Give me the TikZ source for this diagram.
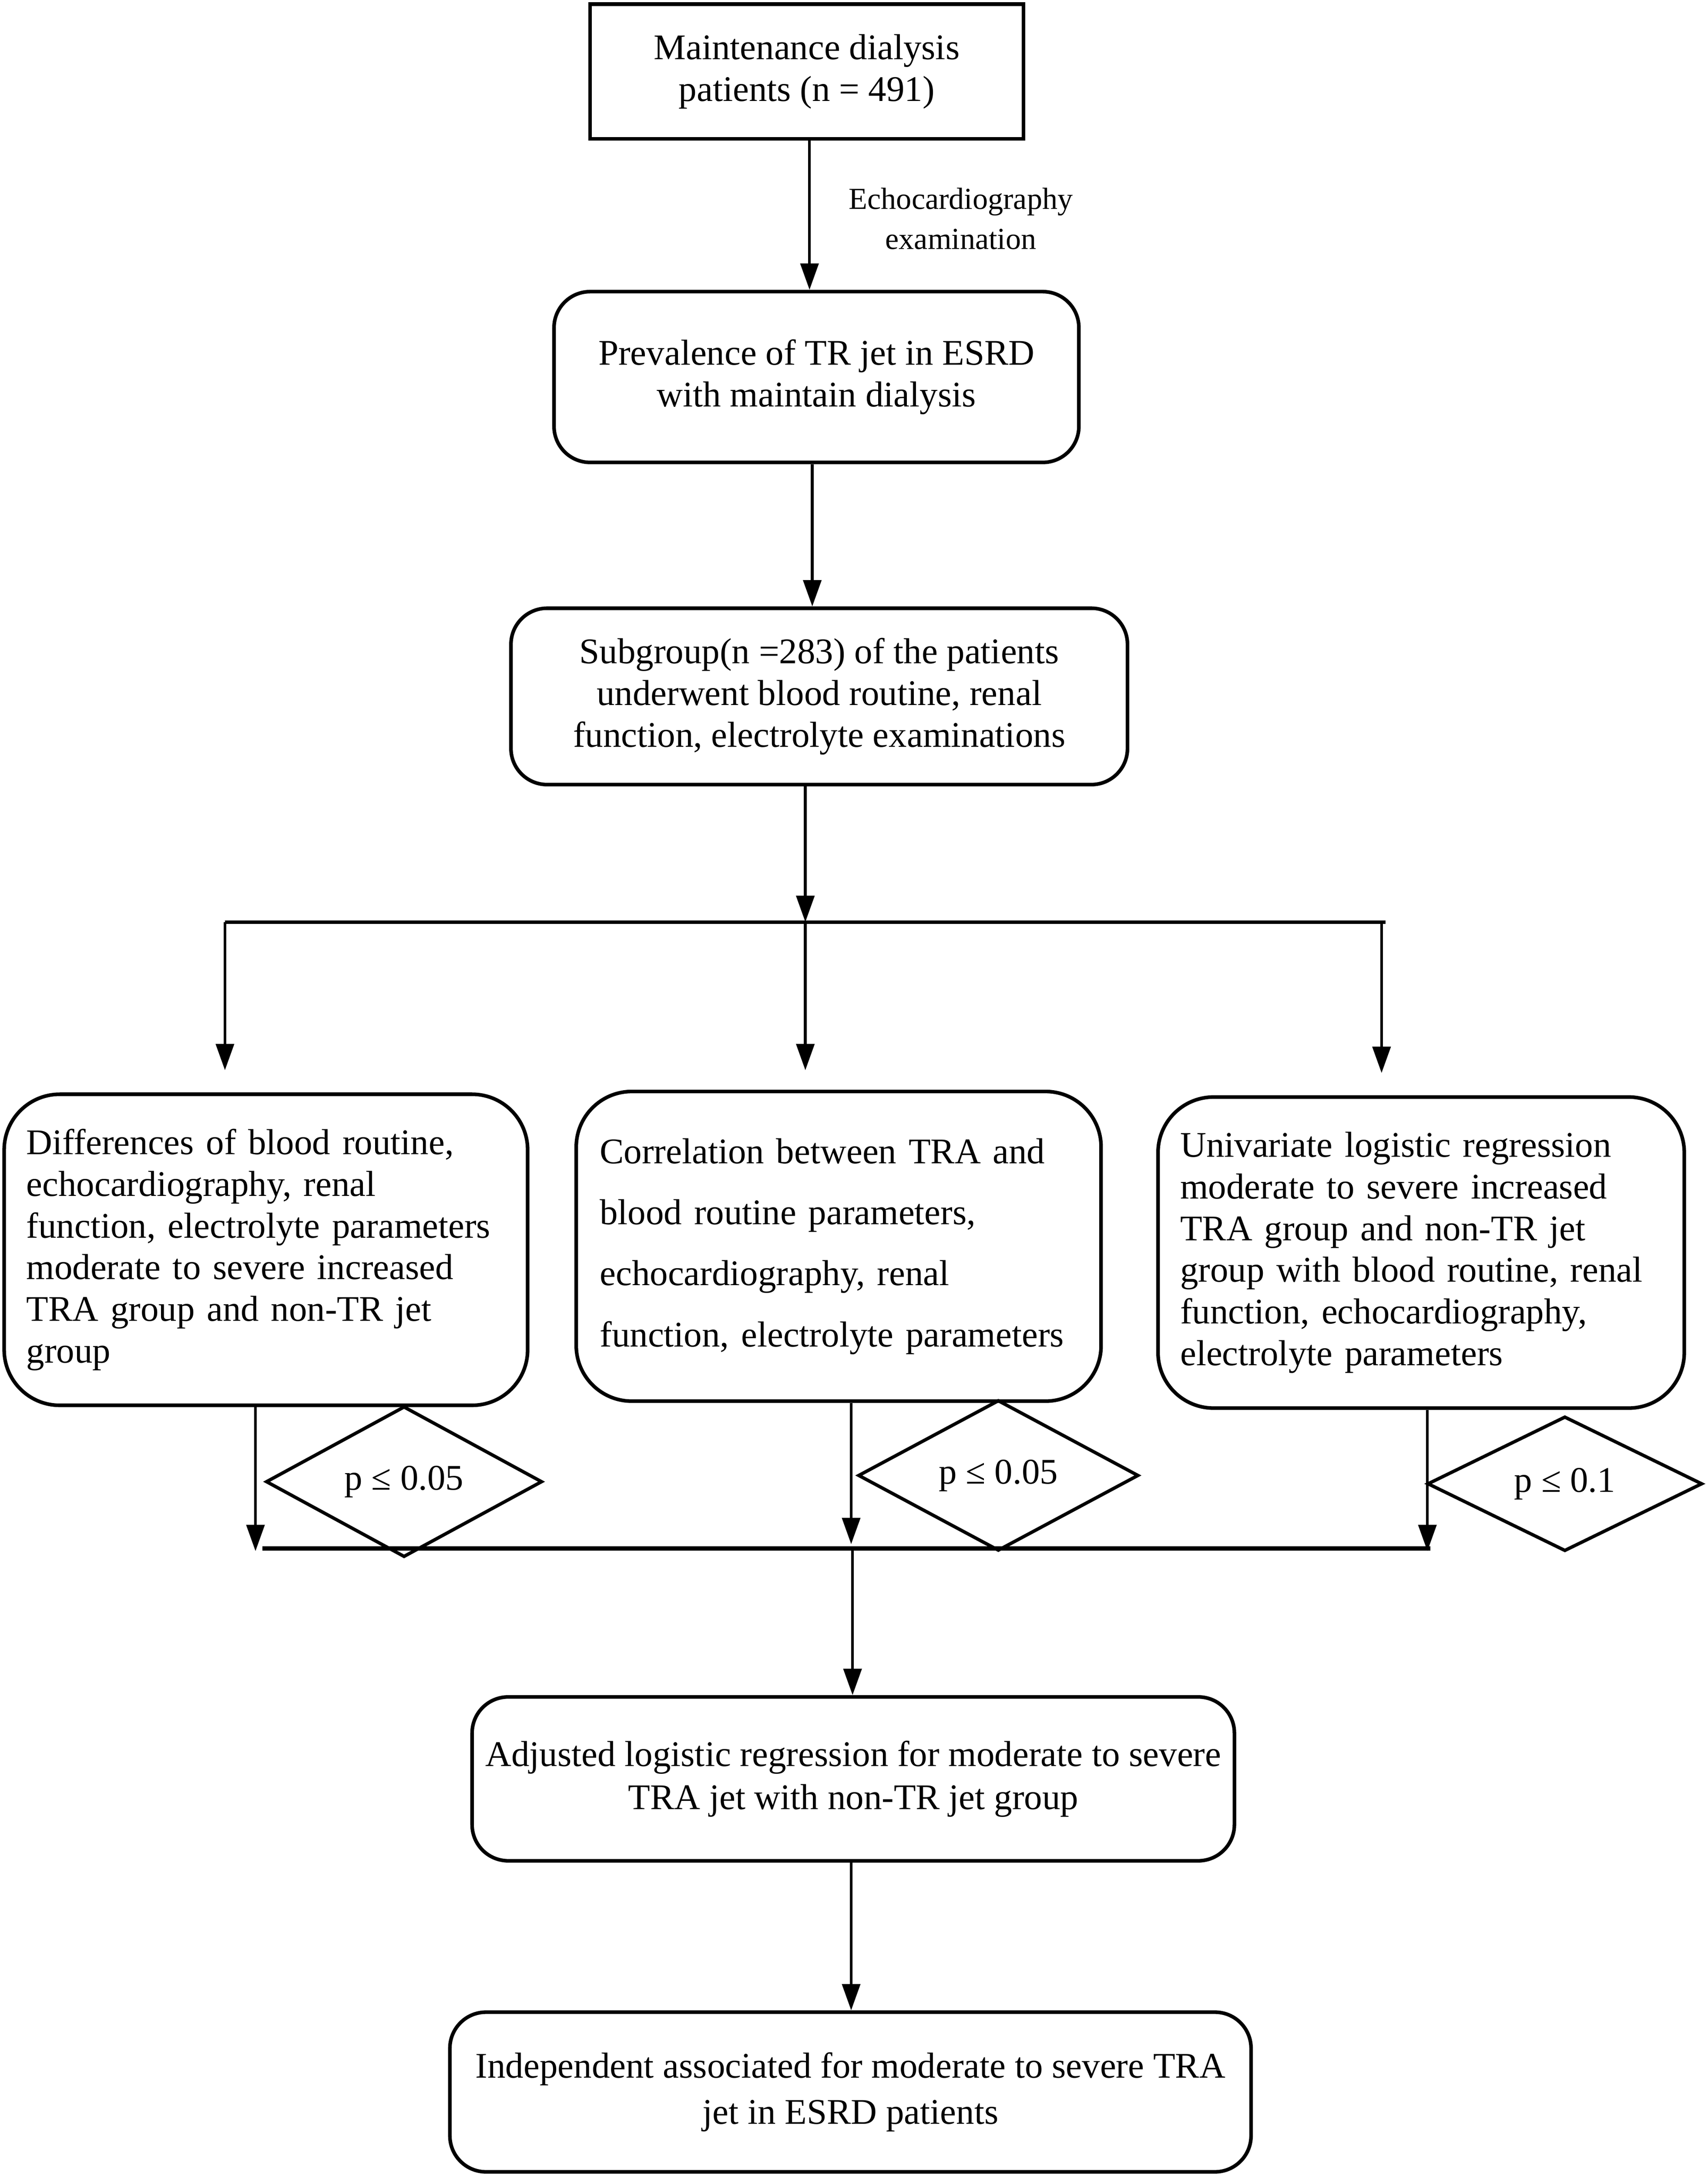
\documentclass[tikz,border=0pt]{standalone}
\usepackage{fontspec}
\setmainfont{Liberation Serif}
\usetikzlibrary{arrows.meta,shapes.geometric}
\begin{document}
\begin{tikzpicture}[x=1pt,y=-1pt,
  txt/.style={font=\fontsize{26}{30}\selectfont},
  sqbox/.style={txt,draw,line width=2.6pt,inner sep=0pt,align=center},
  rbox/.style={txt,draw,line width=2.6pt,rounded corners=26pt,inner sep=0pt,align=center},
  lbox/.style={txt,draw,line width=2.6pt,rounded corners=40pt,inner sep=0pt,align=left},
  dbox/.style={txt,draw,shape=diamond,line width=2.4pt,inner sep=0pt},
  lbl/.style={font=\fontsize{22}{29}\selectfont,align=center,inner sep=0pt},
  arr/.style={line width=2pt,-{Triangle[width=13pt,length=19pt]}},
  ln/.style={line width=2.6pt}
]
\useasboundingbox (0,0) rectangle (1230,1567);

\node[sqbox,minimum width=312pt,minimum height=97pt] (b1) at (581,51.5)
  {Maintenance dialysis\\patients (n = 491)};
\node[lbl] (e) at (692,157.5) {Echocardiography\\examination};
\node[rbox,minimum width=378pt,minimum height=123pt] (b2) at (588,271.5)
  {Prevalence of TR jet in ESRD\\with maintain dialysis};
\node[rbox,minimum width=444pt,minimum height=127pt] (b3) at (590,501.5)
  {Subgroup(n =283) of the patients\\underwent blood routine, renal\\function, electrolyte examinations};

\node[lbox,minimum width=377pt,minimum height=224pt,text width=345pt] (b4) at (191.5,900)
  {Differences of blood routine,\\echocardiography, renal\\function, electrolyte parameters\\moderate to severe increased\\TRA group and non-TR jet\\group};
\node[lbox,minimum width=378pt,minimum height=223pt,text width=344pt,font=\fontsize{26}{44}\selectfont] (b5) at (604,897.5)
  {Correlation between TRA and\\blood routine parameters,\\echocardiography, renal\\function, electrolyte parameters};
\node[lbox,minimum width=379pt,minimum height=224pt,text width=347pt] (b6) at (1023.5,902)
  {Univariate logistic regression\\moderate to severe increased\\TRA group and non-TR jet\\group with blood routine, renal\\function, echocardiography,\\electrolyte parameters};

\node[dbox,minimum width=199pt,minimum height=98pt] (d1) at (291,1067) {p ≤ 0.05};
\node[dbox,minimum width=202pt,minimum height=99pt] (d2) at (719,1062.5) {p ≤ 0.05};
\node[dbox,minimum width=198pt,minimum height=97pt] (d3) at (1127,1068.5) {p ≤ 0.1};

\node[rbox,minimum width=549pt,minimum height=118pt,font=\fontsize{26}{31}\selectfont] (b7) at (614.5,1281)
  {Adjusted logistic regression for moderate to severe\\TRA jet with non-TR jet group};
\node[rbox,minimum width=577pt,minimum height=115pt,font=\fontsize{26}{33}\selectfont] (b8) at (612.5,1506.5)
  {Independent associated for moderate to severe TRA\\jet in ESRD patients};

% connectors
\draw[arr] ([xshift=2pt]b1.south) -- ([xshift=2pt]b1.south |- b2.north);
\draw[arr] ([xshift=-3pt]b2.south) -- ([xshift=-3pt]b2.south |- b3.north);

\coordinate (s0) at (580,664);
\coordinate (sl) at (162,664);
\coordinate (sr) at (998,664);
\coordinate (s3) at (995,664);
\draw[arr] (b3.south -| s0) -- (s0);
\draw[ln] (sl) -- (sr);
\draw[arr,shorten >=16pt] (sl) -- (sl |- b4.north);
\draw[arr,shorten >=14pt] (s0) -- (s0 |- b5.north);
\draw[arr,shorten >=16pt] (s3) -- (s3 |- b6.north);

\coordinate (m1) at (184,1117);
\coordinate (m2) at (613,1112);
\coordinate (m3) at (1028,1117);
\coordinate (ml) at (189,1115);
\coordinate (mr) at (1030,1115);
\coordinate (mc) at (614,1115);
\draw[arr] (b4.south -| m1) -- (m1);
\draw[arr] (b5.south -| m2) -- (m2);
\draw[arr] (b6.south -| m3) -- (m3);
\draw[line width=3pt] (ml) -- (mr);
\draw[arr] (mc) -- (mc |- b7.north);
\draw[arr] ([xshift=-1.5pt]b7.south) -- ([xshift=-1.5pt]b7.south |- b8.north);
\end{tikzpicture}
\end{document}
